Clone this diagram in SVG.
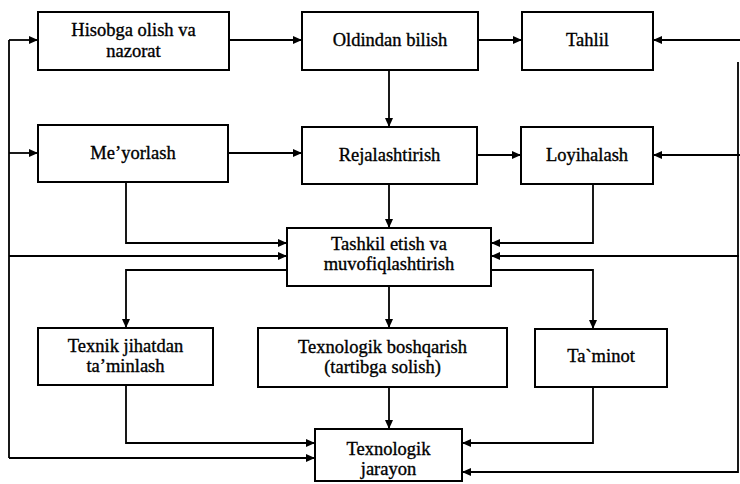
<svg xmlns="http://www.w3.org/2000/svg" width="740" height="484" viewBox="0 0 740 484">
<defs>
<marker id="ah" markerUnits="userSpaceOnUse" markerWidth="10" markerHeight="8" refX="9" refY="4" orient="auto">
<path d="M0,0 L9,4 L0,8 Z" fill="#000"/>
</marker>
</defs>
<style>
rect.b{fill:#fff;stroke:#000;stroke-width:2}
.t text{font-size:18.5px;fill:#000;text-anchor:middle;stroke:#000;stroke-width:0.35}
.c path{fill:none;stroke:#000;stroke-width:1.8}
.c path.a{marker-end:url(#ah)}
</style>
<rect width="740" height="484" fill="#fff"/>
<g class="c" id="connectors">
<path class="a" d="M229,40 H302"/>
<path class="a" d="M478,40 H522"/>
<path class="a" d="M740,40 H653"/>
<path class="a" d="M389,70 V127"/>
<path class="a" d="M228,153 H302"/>
<path class="a" d="M477,155 H521"/>
<path class="a" d="M740,155 H653"/>
<path class="a" d="M389,184 V228"/>
<path class="a" d="M126,182 V243 H287"/>
<path class="a" d="M9,256 H287"/>
<path class="a" d="M287,270 H126 V328"/>
<path class="a" d="M593,184 V243 H491"/>
<path class="a" d="M739,256 H491"/>
<path class="a" d="M491,270 H593 V329"/>
<path class="a" d="M389,286 V328"/>
<path class="a" d="M126,385 V443 H315"/>
<path d="M9,40 V458"/>
<path class="a" d="M9,40 H38"/>
<path class="a" d="M9,153 H38"/>
<path class="a" d="M9,458 H315"/>
<path class="a" d="M389,387 V429"/>
<path class="a" d="M593,387 V443 H462"/>
<path class="a" d="M738,62 V472 H462"/>
</g>
<g class="t" font-family="'Liberation Serif', 'Times New Roman', Times, serif">
<g id="hisobga"><rect class="b" x="38" y="12" width="191" height="58"/><text x="133.5" y="36">Hisobga olish va</text><text x="133.5" y="57">nazorat</text></g>
<g id="oldindan"><rect class="b" x="302" y="12" width="176" height="58"/><text x="390" y="46">Oldindan bilish</text></g>
<g id="tahlil"><rect class="b" x="522" y="12" width="131" height="58"/><text x="587.5" y="46">Tahlil</text></g>
<g id="meyorlash"><rect class="b" x="38" y="125" width="190" height="57"/><text x="133" y="159">Me’yorlash</text></g>
<g id="rejalashtirish"><rect class="b" x="302" y="127" width="175" height="57"/><text x="389.5" y="161">Rejalashtirish</text></g>
<g id="loyihalash"><rect class="b" x="521" y="127" width="132" height="57"/><text x="587" y="161">Loyihalash</text></g>
<g id="tashkil"><rect class="b" x="287" y="228" width="204" height="58"/><text x="389" y="250">Tashkil etish va</text><text x="389" y="270">muvofiqlashtirish</text></g>
<g id="texnik"><rect class="b" x="38" y="328" width="175" height="57"/><text x="125.5" y="352">Texnik jihatdan</text><text x="125.5" y="372">ta’minlash</text></g>
<g id="boshqarish"><rect class="b" x="258" y="328" width="249" height="59"/><text x="382.5" y="353">Texnologik boshqarish</text><text x="382.5" y="373">(tartibga solish)</text></g>
<g id="taminot"><rect class="b" x="535" y="329" width="132" height="58"/><text x="601" y="362">Ta`minot</text></g>
<g id="jarayon"><rect class="b" x="315" y="429" width="147" height="52"/><text x="388.5" y="455">Texnologik</text><text x="388.5" y="475">jarayon</text></g>
</g>
</svg>
